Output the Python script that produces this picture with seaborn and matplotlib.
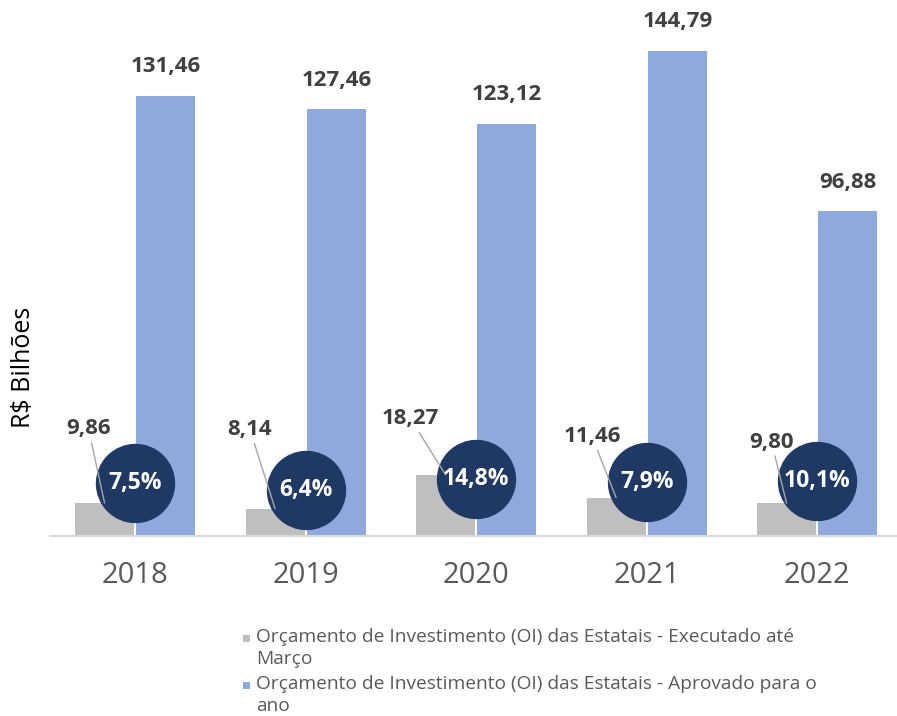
import numpy as np
import pandas as pd
import seaborn as sns
import matplotlib.pyplot as plt
from matplotlib.patches import Rectangle

years = ['2018', '2019', '2020', '2021', '2022']
executado = [9.86, 8.14, 18.27, 11.46, 9.80]
aprovado = [131.46, 127.46, 123.12, 144.79, 96.88]
serie_exec = 'Orçamento de Investimento (OI) das Estatais - Executado até\nMarço'
serie_aprov = 'Orçamento de Investimento (OI) das Estatais - Aprovado para o\nano'

# layout only: label offsets (pixels) for the small bars, bubble heights (data units)
exec_label_offsets = [(-16, 74), (-25, 79), (-35, 56), (-24, 61), (-15, 61)]
bubble_y = [15.8, 13.7, 17.0, 16.1, 16.4]

GRAY = '#BFBFBF'
BLUE = '#8EA9DB'
NAVY = '#1F3864'
TXT = '#404040'
W, H = 897, 716

def fmt(v, nd=2):
    return f'{v:.{nd}f}'.replace('.', ',')

if __name__ == "__main__":
    sns.set_style('white')
    plt.rcParams['font.family'] = ['Open Sans', 'DejaVu Sans']

    df = pd.DataFrame({
        'ano': years * 2,
        'serie': [serie_exec] * len(years) + [serie_aprov] * len(years),
        'valor': executado + aprovado,
    })

    fig = plt.figure(figsize=(W / 100, H / 100), dpi=100)
    ax = fig.add_axes([50 / W, 1 - 536 / H, 852.5 / W, 536 / H])

    sns.barplot(data=df, x='ano', y='valor', hue='serie',
                palette=[GRAY, BLUE], saturation=1, width=0.72, gap=0.04,
                linewidth=0, legend=False, ax=ax)

    ax.set_ylim(0, 160)
    ax.set_xlim(-0.5, len(years) - 0.5)
    ax.set_yticks([])
    ax.set_xlabel('')
    ax.set_ylabel('R$ Bilhões', fontsize=18, color='#000000')
    ax.yaxis.set_label_coords(-0.017, 0.315)
    for s in ['top', 'right', 'left']:
        ax.spines[s].set_visible(False)
    ax.spines['bottom'].set_color('#D9D9D9')
    ax.spines['bottom'].set_linewidth(1.5)
    ax.tick_params(axis='x', length=0, pad=18, labelsize=21, labelcolor='#595959')

    x = np.arange(len(years))
    half = 0.18

    # percentage bubbles
    ax.scatter(x, bubble_y, s=3150, color=NAVY, zorder=3, clip_on=False)
    for xi, yb, e, a in zip(x, bubble_y, executado, aprovado):
        ax.text(xi, yb, fmt(e / a * 100, 1) + '%', ha='center', va='center',
                color='white', fontsize=16.5, fontweight='bold', zorder=5)

    # labels for executed bars with leader lines
    for xi, v, (dx, dy) in zip(x, executado, exec_label_offsets):
        ax.annotate(fmt(v), xy=(xi - half, v), xytext=(dx, dy),
                    textcoords='offset pixels', ha='center', va='center',
                    fontsize=16, fontweight='bold', color=TXT, zorder=4,
                    arrowprops=dict(arrowstyle='-', color='#A6A6A6', lw=1,
                                    shrinkA=0, shrinkB=0))

    # labels for approved bars
    for xi, v in zip(x, aprovado):
        ax.annotate(fmt(v), xy=(xi + half, v), xytext=(0, 29),
                    textcoords='offset pixels', ha='center', va='center',
                    fontsize=16, fontweight='bold', color=TXT,
                    annotation_clip=False)

    # legend: square aligned with first line of each wrapped label
    for color, label, ytop in [(GRAY, serie_exec, 628), (BLUE, serie_aprov, 675)]:
        fig.add_artist(Rectangle((243 / W, 1 - (ytop + 14) / H), 7 / W, 7 / H,
                                 transform=fig.transFigure, facecolor=color,
                                 edgecolor='none'))
        fig.text(256 / W, 1 - ytop / H, label, ha='left', va='top',
                 fontsize=13.8, color='#595959', linespacing=1.3)

    fig.savefig('out.png', dpi=100)
